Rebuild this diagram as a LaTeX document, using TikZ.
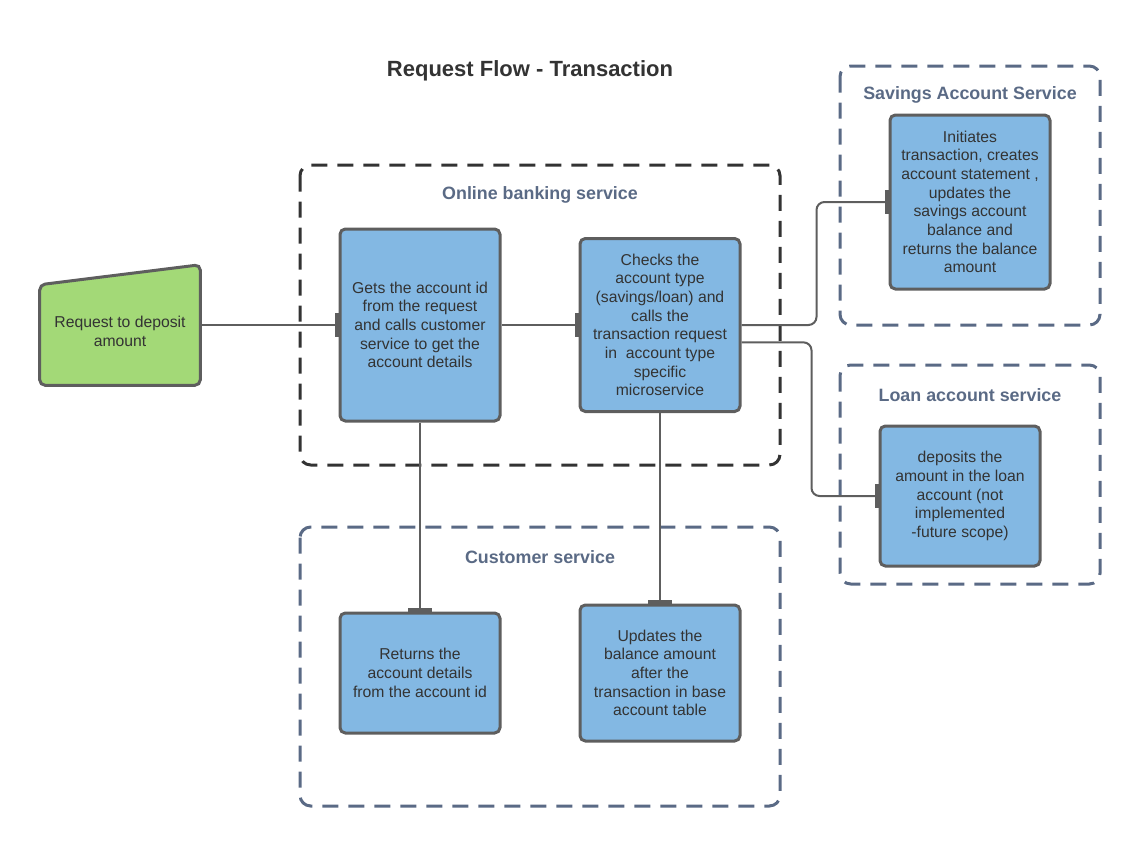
\documentclass[tikz,border=0pt]{standalone}
\usepackage{fontspec}
\setmainfont{Liberation Sans}
\usetikzlibrary{arrows.meta,backgrounds}
\definecolor{boxblue}{HTML}{83B8E3}
\definecolor{reqgreen}{HTML}{A3D977}
\definecolor{edgegray}{HTML}{5E5E5E}
\definecolor{slate}{HTML}{5A6A85}
\definecolor{inkdark}{HTML}{333333}

\begin{document}
\begin{tikzpicture}[x=0.75pt, y=-0.75pt,
		task/.style={draw=edgegray, line width=2.25pt, fill=boxblue, rounded corners=4pt, minimum width=120pt, inner sep=0pt, align=center, text=inkdark, font=\fontsize{11.8}{14}\selectfont},
		svc/.style={line width=2.25pt, dash pattern=on 12pt off 7.5pt, rounded corners=8pt},
		svclabel/.style={font=\fontsize{13.4}{16}\selectfont\bfseries, text=slate},
		link/.style={draw=edgegray, line width=1.5pt, rounded corners=6pt, -{Rectangle[length=2.5pt, width=18pt]}}]
				\useasboundingbox (0,0) rectangle (1140,846);
				\node[font=\fontsize{16.5}{20}\selectfont\bfseries, text=inkdark] (title)at(530, 71) {Request Flow - Transaction};
				% service boundaries
				\draw[svc, draw=inkdark] (300,165) rectangle (780,465);
				\draw[svc, draw=slate] (300,527) rectangle (780,806);
				\draw[svc, draw=slate] (840,66) rectangle (1100,325);
				\draw[svc, draw=slate] (840,365) rectangle (1100,584);
				\node[svclabel] (online)at(540, 195) {Online banking service};
				\node[svclabel] (customer)at(540, 557) {Customer service};
				\node[svclabel] (savings)at(970, 95) {Savings Account Service};
				\node[svclabel] (loans)at(970, 395) {Loan account service};
				% request
				\node[minimum width=120pt, minimum height=90pt, label={[yshift=-5pt, align=center, text=inkdark, font=\fontsize{11.8}{14}\selectfont]center:{Request to deposit\\amount}}] (req)at(120, 325) {};
				\begin{scope}[on background layer]
					\draw[draw=edgegray, line width=2.25pt, fill=reqgreen, rounded corners=4pt] (req.south west) -- (req.south east) -- (req.north east) -- ([yshift=-15pt]req.north west) -- cycle;
				\end{scope}
				% online banking
				\node[task, minimum height=144pt] (getid)at(420, 325) {Gets the account id\\from the request\\and calls customer\\service to get the\\account details};
				\node[task, minimum height=129.75pt] (check)at(660, 325) {Checks the\\account type\\(savings/loan) and\\calls the\\transaction request\\in\ \ account type\\specific\\microservice};
				% savings and loan
				\node[task, minimum height=130.5pt] (save)at(970, 202) {Initiates\\transaction, creates\\account statement ,\\updates the\\savings account\\balance and\\returns the balance\\amount};
				\node[task, minimum height=105pt] (loan)at(960, 496) {deposits the\\amount in the loan\\account (not\\implemented\\-future scope)};
				% customer service
				\node[task, minimum height=90pt] (details)at(420, 673) {Returns the\\account details\\from the account id};
				\node[task, minimum height=102pt] (update)at(660, 673) {Updates the\\balance amount\\after the\\transaction in base\\account table};
				% connectors
				\draw[link] (req.east) -- (getid.west);
				\draw[link] (getid.east) -- (check.west);
				\draw[link] (check.east) -- ++(75,0) |- (save.west);
				\draw[link] ([yshift=-13pt]check.east) -- ++(70,0) |- (loan.west);
				\draw[link] (getid.south) -- (details.north);
				\draw[link] (check.south) -- (update.north);
			\end{tikzpicture}
\end{document}
